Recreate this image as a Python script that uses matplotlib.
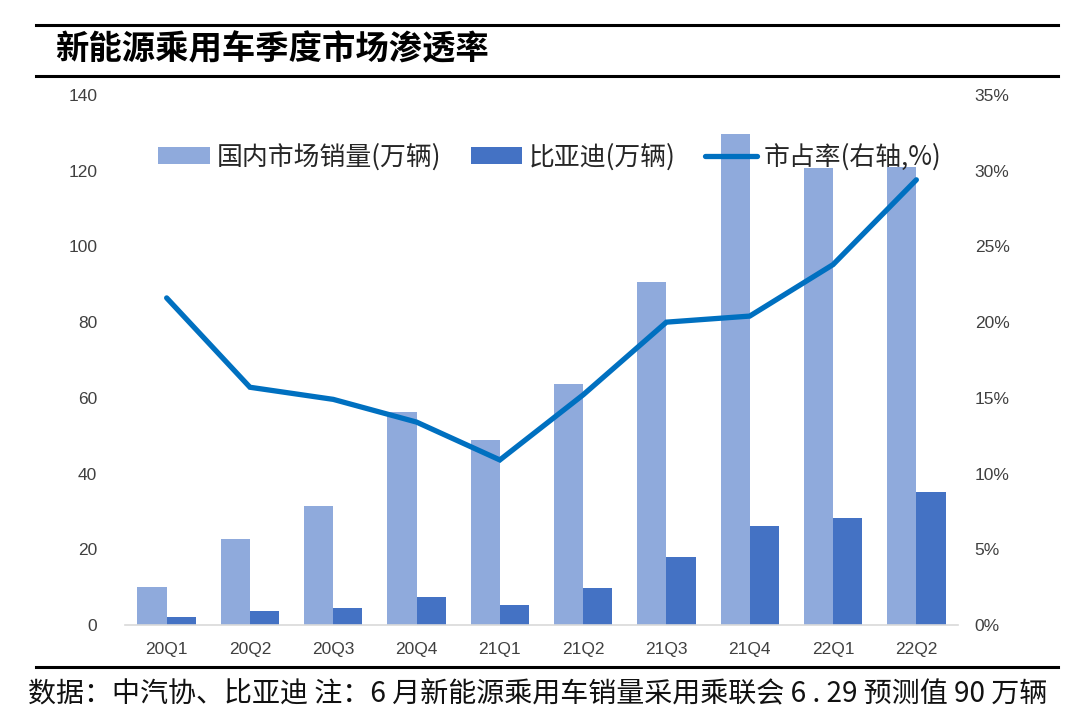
import matplotlib
matplotlib.use("Agg")
import matplotlib.pyplot as plt
from matplotlib.ticker import FuncFormatter, MultipleLocator
from matplotlib.lines import Line2D
import numpy as np

plt.rcParams['font.family'] = ['Noto Sans CJK SC', 'DejaVu Sans']

quarters = ["20Q1", "20Q2", "20Q3", "20Q4", "21Q1", "21Q2", "21Q3", "21Q4", "22Q1", "22Q2"]
domestic_sales = [10.1, 22.8, 31.4, 56.2, 48.9, 63.7, 90.6, 129.7, 120.6, 120.9]
byd_sales = [2.2, 3.6, 4.6, 7.3, 5.2, 9.7, 18.0, 26.2, 28.3, 35.2]
penetration = [21.6, 15.7, 14.9, 13.4, 10.9, 15.2, 20.0, 20.4, 23.8, 29.4]

title = "新能源乘用车季度市场渗透率"
footer = "数据：中汽协、比亚迪 注：6 月新能源乘用车销量采用乘联会 6 . 29 预测值 90 万辆"
legend_labels = ["国内市场销量(万辆)", "比亚迪(万辆)", "市占率(右轴,%)"]

c_light = "#8FAADC"
c_dark = "#4472C4"
c_line = "#0070C0"
c_tick = "#404040"

fig = plt.figure(figsize=(10.8, 7.23), dpi=100)
ax = fig.add_axes([125/1080, 1-625/723, 833/1080, 530/723])
ax2 = ax.twinx()

x = np.arange(len(quarters))
w = 0.35
b1 = ax.bar(x - w/2, domestic_sales, width=w, color=c_light, zorder=2)
b2 = ax.bar(x + w/2, byd_sales, width=w, color=c_dark, zorder=2)
ax2.plot(x, penetration, color=c_line, lw=3.8, solid_capstyle='round', solid_joinstyle='miter', zorder=3)

ax.set_xlim(-0.5, 9.5)
ax.set_ylim(0, 140)
ax.yaxis.set_major_locator(MultipleLocator(20))
ax2.set_ylim(0, 35)
ax2.yaxis.set_major_locator(MultipleLocator(5))
ax2.yaxis.set_major_formatter(FuncFormatter(lambda v, p: f"{int(round(v))}%"))

ax.set_xticks(x)
ax.set_xticklabels(quarters)
for a in (ax, ax2):
    for s in a.spines.values():
        s.set_visible(False)
    a.tick_params(length=0, labelsize=12.5, labelcolor=c_tick)
ax.spines['bottom'].set_visible(True)
ax.spines['bottom'].set_color("#D9D9D9")
ax.spines['bottom'].set_linewidth(1.2)
ax.tick_params(axis='y', pad=20)
ax.tick_params(axis='x', pad=12)
ax2.tick_params(axis='y', pad=12)
for lab in ax.get_xticklabels() + ax.get_yticklabels() + ax2.get_yticklabels():
    lab.set_fontfamily(['Liberation Sans', 'DejaVu Sans'])

handles = [b1, b2, Line2D([0], [0], color=c_line, lw=3.8, solid_capstyle='round')]
leg = ax2.legend(handles, legend_labels, ncol=3, loc='center left', bbox_to_anchor=(0.04, 0.883),
                 frameon=False, fontsize=18.6, handlelength=2.0, handleheight=0.6,
                 columnspacing=1.15, handletextpad=0.25, borderpad=0, borderaxespad=0)
for t in leg.get_texts():
    t.set_color("#262626")

# title rules and text
fig.add_artist(Line2D([36/1080, 1058/1080], [1-25/723, 1-25/723], color='black', lw=2.2))
fig.add_artist(Line2D([36/1080, 1058/1080], [1-76/723, 1-76/723], color='black', lw=2.2))
fig.text(55/1080, 1-50/723, title, fontsize=24, fontweight='bold', va='center', ha='left', color='black')

# footer
fig.add_artist(Line2D([36/1080, 1058/1080], [1-667/723, 1-667/723], color='black', lw=2.2))
fig.text(28/1080, 1-694/723, footer, fontsize=20.2, va='center', ha='left', color='#111111')

fig.savefig("out.png", dpi=100)
